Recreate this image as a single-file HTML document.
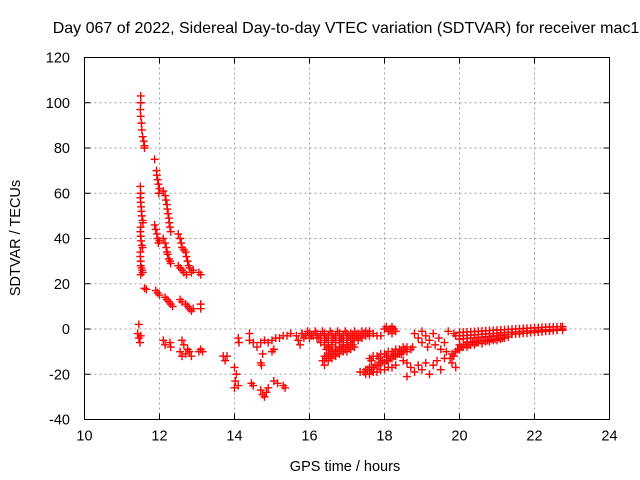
<!DOCTYPE html>
<html><head><meta charset="utf-8"><style>
html,body{margin:0;padding:0;background:#fff;}
svg{display:block;font-family:"Liberation Sans",sans-serif;}
</style></head><body>
<svg id="chart" width="640" height="480" viewBox="0 0 640 480">
<text x="346" y="33" font-size="16" text-anchor="middle" fill="#000">Day 067 of 2022, Sidereal Day-to-day VTEC variation (SDTVAR) for receiver mac1</text>
<text x="345" y="471" font-size="14.5" text-anchor="middle">GPS time / hours</text>
<text transform="translate(20,238) rotate(-90)" font-size="14.5" text-anchor="middle">SDTVAR / TECUs</text>
<g id="grid"></g>
<g id="ticks"></g>
<g id="marks"></g>
<rect x="84.5" y="57.5" width="525" height="362" fill="none" stroke="#000" stroke-width="1"/>
</svg>
<script>
const xTicks=[10,12,14,16,18,20,22,24];
const yTicks=[-40,-20,0,20,40,60,80,100,120];
const earlyHigh=[[11.5,103],[11.5,100],[11.49,97],[11.5,94],[11.52,91],[11.53,88],[11.55,85],[11.58,83],[11.6,81],[11.6,80],
[11.87,75],[11.92,70],[11.93,68],[11.95,66],[11.97,64],[12.0,62],[11.98,60]];
const earlyMid=[[11.49,63],[11.5,60],[11.49,58],[11.5,56],[11.51,54],[11.52,52],[11.53,50],[11.55,48],[11.56,47],[11.5,45],[11.49,43],[11.5,41],[11.51,39],[11.53,37],[11.55,36],[11.49,34],[11.49,32],[11.5,30],[11.5,28],[11.52,27],[11.54,26],[11.55,25],[11.5,24],
[11.87,46],[11.9,44],[11.93,42],[11.95,40],[11.97,38],[12.0,39],
[12.1,61],[12.15,59],[12.17,57],[12.2,55],[12.21,53],[12.23,51],[12.25,49],[12.26,47],[12.28,45],[12.3,43],
[12.1,40],[12.15,38],[12.18,36],[12.2,34],[12.22,33],[12.25,31],[12.28,30],[12.3,29],
[12.5,42],[12.55,40],[12.58,38],[12.6,36],[12.65,35],[12.7,34],[12.72,32],[12.75,30],[12.78,28],[12.8,27],[12.85,25],
[12.5,28],[12.55,27],[12.6,26],[12.65,25],[12.72,24],[13.05,25],[13.1,24],[12.9,26]];
const earlyLow=[[11.6,18],[11.65,17.5],[11.9,17],[11.95,16],[12.0,15],[12.15,14],[12.2,13],[12.25,12],[12.3,11],[12.35,10],
[12.55,13],[12.6,12],[12.7,11],[12.75,10],[12.8,9],[12.85,8],[12.9,9],[13.1,11],[13.1,9],
[11.45,2],[11.42,-2],[11.45,-4],[11.48,-6],[11.5,-3],[12.1,-5],[12.15,-7],[12.3,-8],[12.28,-6],[12.6,-5],[12.65,-7],[12.55,-10],[12.6,-12],[12.7,-11],[12.75,-9],[12.85,-12],[12.8,-10],[13.05,-10],[13.1,-9],
[13.15,-10],[13.7,-12],[13.75,-14],[13.8,-12],[14.0,-17],[14.05,-20],[14.02,-23],[14.1,-25],[14.0,-26],[14.1,-4],[14.12,-6],
[14.4,-2],[14.4,-5],[14.5,-6],[14.6,-8],[14.7,-6],[14.8,-5],[14.75,-11],[14.7,-15],[14.72,-16],[15.0,-10],[15.05,-9],
[14.45,-24],[14.5,-25],[14.7,-27],[14.75,-29],[14.8,-30],[14.85,-28],[14.9,-26],[15.05,-23],[15.15,-24],[15.3,-25],[15.35,-26],
[14.9,-6],[15.0,-5],[15.1,-4],[15.2,-4],[15.3,-3],[15.4,-3],[15.5,-2],[15.65,-3],[15.7,-5],[15.75,-7],[15.8,-2]];
const midBand=[[15.8,-2],[15.9,-3],[16.0,-2],[16.1,-3],[16.2,-2],[16.3,-3],[16.4,-2],[16.5,-3],[16.6,-2],[16.7,-3],[16.8,-2],[16.9,-3],[17.0,-2],[17.1,-2],[17.2,-1],[17.3,-2],[17.4,-1],[17.5,-1],[17.6,-1],
[15.85,-4],[15.95,-1],[16.05,-3],[16.15,-1],[16.25,-4],[16.35,-1],[16.45,-4],[16.55,-1],[16.65,-4],[16.75,-1],[16.85,-4],[16.95,-1],[17.05,-3],[17.15,-3],[17.25,-3],[17.35,-3],[17.45,-2],[17.55,-2],
[16.0,-4],[16.2,-4],[16.4,-5],[16.6,-5],[16.8,-5],[17.0,-4],[17.2,-4],[17.4,-4],[17.6,-3],[17.8,-3],[17.9,-3],
[16.3,-6],[16.5,-6],[16.7,-6],[16.9,-5],[17.1,-5],[17.3,-4],[17.5,-3],[17.7,-2],
[16.4,-7],[16.5,-8],[16.6,-7],[16.8,-6],[17.0,-6],[17.3,-5],[16.45,-9],[16.55,-9],[16.7,-8],[16.9,-7],
[16.35,-14],[16.4,-12],[16.5,-11],[16.6,-10],[16.7,-9],[16.8,-8],[16.9,-8],[17.0,-7],[17.1,-6],
[16.45,-13],[16.55,-12],[16.65,-11],[16.75,-10],[16.85,-9],[16.95,-9],[17.05,-8],[17.15,-7],
[16.4,-16],[16.5,-14],[16.6,-13],[16.7,-12],[16.8,-11],[16.9,-10],[17.0,-10],[17.1,-9],[17.2,-8],
[18.05,1],[18.15,0],[18.25,0],[18.3,-1],[18.2,-2],[18.1,-1],[18.0,0],[18.2,1]];
const lowBand=[[17.35,-19],[17.5,-18],[17.6,-17],[17.7,-17],[17.8,-16],[17.9,-15],[18.0,-15],[18.1,-14],[18.2,-13],[18.3,-12],[18.4,-11],[18.5,-10],[18.6,-10],[18.7,-9],
[17.45,-19],[17.55,-18],[17.65,-18],[17.75,-16],[17.85,-16],[17.95,-14],[18.05,-14],[18.15,-13],[18.25,-12],[18.35,-11],[18.45,-11],[18.55,-9],
[17.5,-20],[17.7,-19],[17.9,-18],[18.1,-17],[18.3,-16],[18.5,-14],[17.6,-20],[17.8,-19],[18.0,-18],[18.2,-17],
[17.6,-13],[17.7,-12],[17.8,-12],[17.9,-11],[18.0,-11],[18.1,-10],[18.2,-10],[18.3,-9],[18.4,-9],[18.5,-8],[18.6,-8],[18.75,-8],
[17.65,-14],[17.85,-13],[18.05,-12],[18.25,-11],[18.45,-10],
[18.8,-2],[18.9,-4],[19.0,-1],[19.0,-6],[19.1,-3],[19.15,-8],[19.2,-5],[19.3,-2],[19.35,-7],[19.45,-4],[19.5,-9],[19.6,-6],[19.65,-10],
[18.6,-15],[18.7,-17],[18.8,-19],[18.9,-16],[19.0,-18],[19.1,-15],[19.2,-20],[19.3,-16],[19.4,-14],[19.5,-18],[19.6,-13],[19.8,-15],[19.9,-17],[18.6,-21]];
const lateUpper=[[19.7,-1],[19.85,-2],[20.0,-1.5],[20.2,-1.3],[20.4,-1.1],[20.6,-0.9],[20.8,-0.7],[21.0,-0.5],[21.2,-0.3],[21.4,-0.1],[21.6,0.1],[21.8,0.3],[22.0,0.5],[22.2,0.7],[22.4,0.9],[22.6,1.0],[22.75,1.0],
[20.1,-1.4],[20.3,-1.2],[20.5,-1.0],[20.7,-0.8],[20.9,-0.6],[21.1,-0.4],[21.3,-0.2],[21.5,0],[21.7,0.2],[21.9,0.4],[22.1,0.6],[22.3,0.8],[22.5,0.9],[22.7,1.0],
[19.9,-3],[20.0,-3],[20.2,-2.8],[20.4,-2.6],[20.6,-2.3],[20.8,-2.1],[21.0,-1.9],[21.2,-1.6],[21.4,-1.4],[21.6,-1.2],[21.8,-0.9],[22.0,-0.7],[22.2,-0.5],[22.4,-0.3],[22.6,-0.1],[22.75,0],
[20.1,-2.9],[20.3,-2.7],[20.5,-2.4],[20.7,-2.2],[20.9,-2.0],[21.1,-1.7],[21.3,-1.5],[21.5,-1.3],[21.7,-1.0],[21.9,-0.8],[22.1,-0.6],[22.3,-0.4],[22.5,-0.2],
[20.0,-4.5],[20.2,-4.2],[20.4,-3.9],[20.6,-3.6],[20.8,-3.3],[21.0,-3.0],[21.2,-2.7],[21.4,-2.4],[21.6,-2.1],[21.8,-1.8],[22.0,-1.5],[22.2,-1.2],[22.4,-0.9],[22.6,-0.6],[22.75,-0.5],
[20.1,-4.3],[20.3,-4.0],[20.5,-3.7],[20.7,-3.4],[20.9,-3.1],[21.1,-2.8],[21.3,-2.5],[21.5,-2.2],[21.7,-1.9],[21.9,-1.6],[22.1,-1.3],[22.3,-1.0],[22.5,-0.7]];
const lateLower=[[19.75,-13],[19.8,-11],[19.9,-10],[20.0,-9],[20.0,-7],[20.1,-8],[20.2,-8],[20.2,-6],[20.3,-7],[20.4,-7],[20.4,-5.5],[20.5,-6],[20.6,-6.5],[20.7,-5.5],[20.8,-5.5],[20.9,-5],[21.0,-5],[21.1,-4.5],[21.2,-4],
[19.85,-12],[19.95,-9],[20.05,-8],[20.15,-7],[20.25,-7],[20.35,-6],[20.45,-6],[20.55,-5],[20.65,-5],[20.75,-5],[20.85,-4.5],[20.95,-4.5],[21.05,-4],[21.15,-4],[21.3,-3.5]];
const series=[earlyHigh,earlyMid,earlyLow,midBand,lowBand,lateUpper,lateLower];
const L=84.5,R=609.5,T=57.5,B=419.5;
function sx(v){return L+(v-10)/14*(R-L);}
function sy(v){return B-(v+40)/160*(B-T);}
const NS="http://www.w3.org/2000/svg";
const grid=document.getElementById('grid'),ticks=document.getElementById('ticks'),marks=document.getElementById('marks');
function mk(tag,attrs,parent){const e=document.createElementNS(NS,tag);for(const k in attrs)e.setAttribute(k,attrs[k]);parent.appendChild(e);return e;}
xTicks.forEach(t=>{const x=sx(t);
 if(t>10&&t<24){const g=mk('line',{x1:x,x2:x,y1:T,y2:B,stroke:'#a0a0a0','stroke-dasharray':'2,3'},grid);
 
 }
 const tx=mk('text',{x:x,y:B+21,'font-size':'14.5','text-anchor':'middle'},ticks);tx.textContent=t;
 
 
 mk('line',{x1:x,x2:x,y1:B,y2:B-6,stroke:'#000'},ticks);mk('line',{x1:x,x2:x,y1:T,y2:T+6,stroke:'#000'},ticks);});
yTicks.forEach(t=>{const y=sy(t);
 if(t>-40&&t<120){const g=mk('line',{x1:L,x2:R,y1:y,y2:y,stroke:'#a0a0a0','stroke-dasharray':'2,3'},grid);
 
 }
 const tx=mk('text',{x:70,y:y+5,'font-size':'14.5','text-anchor':'end'},ticks);tx.textContent=t;
 
 
 mk('line',{x1:L,x2:L+6,y1:y,y2:y,stroke:'#000'},ticks);mk('line',{x1:R,x2:R-6,y1:y,y2:y,stroke:'#000'},ticks);});
series.forEach(s=>s.forEach(p=>{const x=sx(p[0]),y=sy(p[1]);
 const m=mk('path',{d:`M${x-4},${y}h8M${x},${y-4}v8`,stroke:'#ff0000','stroke-width':'1.4',fill:'none'},marks);
 
 }));
</script>
</body></html>
